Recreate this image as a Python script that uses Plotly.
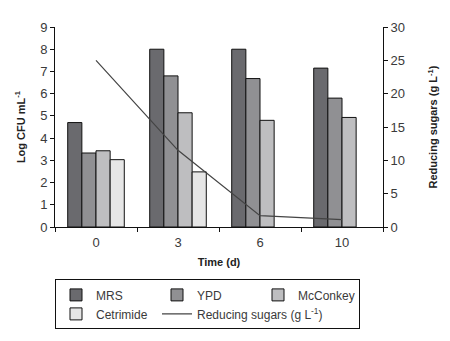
import plotly.graph_objects as go

days = ["0", "3", "6", "10"]
mrs = [4.7, 8.0, 8.0, 7.15]
ypd = [3.33, 6.8, 6.68, 5.8]
mcconkey = [3.43, 5.14, 4.8, 4.93]
cetrimide = [3.03, 2.48, None, None]
sugars = [25.0, 11.5, 1.7, 1.1]

FONT = "Liberation Sans Narrow, Arial Narrow, Liberation Sans, sans-serif"
TXT = "#3a3a3a"

fig = go.Figure()
series = [("MRS", mrs, "#6a6a6e"), ("YPD", ypd, "#909093"),
          ("McConkey", mcconkey, "#bebec0"), ("Cetrimide", cetrimide, "#e6e6e6")]
for name, vals, col in series:
    fig.add_trace(go.Bar(x=days, y=vals, name=name, marker=dict(color=col, line=dict(color="#111111", width=1))))

fig.add_trace(go.Scatter(x=days, y=sugars, name="Reducing sugars (g L<sup>-1</sup>)", mode="lines",
                         line=dict(color="#444444", width=1.2), yaxis="y2"))

fig.update_layout(
    width=442, height=333,
    margin=dict(l=47, r=65, t=16, b=112.5),
    paper_bgcolor="white", plot_bgcolor="white",
    barmode="group", bargap=0.31, bargroupgap=0,
    font=dict(family=FONT, color=TXT, size=13),
    xaxis=dict(type="category", tickson="boundaries", ticks="outside", ticklen=4, tickcolor="#111",
               showline=True, linecolor="#111", linewidth=1, showgrid=False, ticklabelstandoff=3,
               title=dict(text="<b>Time (d)</b>", font=dict(size=11, color="#222"), standoff=9),
               tickfont=dict(size=13, color=TXT)),
    yaxis=dict(range=[0, 9], dtick=1, ticks="outside", ticklen=4, tickcolor="#111",
               showline=True, linecolor="#111", linewidth=1, showgrid=False, zeroline=False,
               title=dict(text="<b>Log CFU mL<sup>-1</sup></b>", font=dict(size=11, color="#222"), standoff=12),
               tickfont=dict(size=13, color=TXT)),
    yaxis2=dict(range=[0, 30], dtick=5, overlaying="y", side="right", ticks="outside", ticklen=4,
                tickcolor="#111", showline=True, linecolor="#111", linewidth=1, showgrid=False, zeroline=False,
                title=dict(text="<b>Reducing sugars (g L<sup>-1</sup>)</b>", font=dict(size=11, color="#222"), standoff=25),
                tickfont=dict(size=13, color=TXT)),
    legend=dict(orientation="h", x=0, xanchor="left", y=-0.262, yanchor="top",
                bgcolor="white", bordercolor="#111", borderwidth=1,
                font=dict(size=12, color=TXT), entrywidth=56, traceorder="normal"),
    showlegend=True,
)

fig.write_html("out.html")
